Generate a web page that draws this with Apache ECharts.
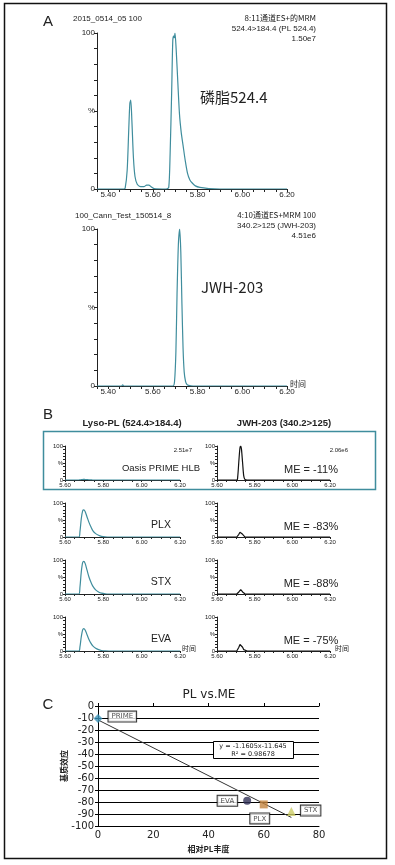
<!DOCTYPE html>
<html><head><meta charset="utf-8">
<script src="https://cdn.jsdelivr.net/npm/echarts@6/dist/echarts.min.js"></script>
<style>html,body{margin:0;padding:0;background:#fff}#c{width:395px;height:865px}</style>
</head><body><div id="c"></div><script>
// ---------- DATA ----------
// Panel A (top): 524.4>184.4 chromatogram
const a1Time = [5.35,5.47,5.476,5.485,5.492,5.497,5.501,5.506,5.513,5.52,5.53,5.545,5.56,5.572,5.582,5.592,5.605,5.66,5.671,5.677,5.684,5.689,5.693,5.696,5.699,5.704,5.711,5.719,5.727,5.735,5.745,5.755,5.765,5.775,5.79,5.81,5.85,5.9,6.2];
const a1Pct  = [0,0,0.5,12,38,55,57,44,20,8,3,1.5,1.5,2.5,2.5,1.5,0.3,0,1,22,62,95,98,97,100,90,70,48,36,28,18,10,6,4,2,1,0.3,0,0];
// Panel A (bottom): 340.2>125 (JWH-203)
const a2Time = [5.35,5.46,5.465,5.47,5.69,5.697,5.703,5.708,5.714,5.72,5.725,5.73,5.735,5.74,5.746,5.752,5.76,5.78,6.2];
const a2Pct  = [0,0,0.8,0,0,3,22,58,90,100,85,52,24,9,3,1,0.4,0,0];
// Panel B: Lyso-PL column (rows: PRIME HLB, PLX, STX, EVA)
const bTimePL = [5.6,5.672,5.678,5.685,5.692,5.698,5.705,5.715,5.725,5.735,5.745,5.76,5.775,5.79,5.81,5.83,6.2];
const bPLPrime = [0,0,0.5,1,1.5,2,1.5,1,0.5,0.3,0,0,0,0,0,0,0];
const bPLPLX   = [0,0,16,54,77,80,75,59,43,30,19,10,5,2,0.5,0,0];
const bPLSTX   = [0,0,20,65,92,96,90,70,50,35,23,12,6,2.5,0.5,0,0];
const bPLEVA   = [0,0,12,42,62,66,62,48,34,23,15,8,4,1.5,0.3,0,0];
// Panel B: JWH-203 column
const bTimeJWH  = [5.6,5.705,5.71,5.716,5.722,5.726,5.73,5.736,5.742,5.748,5.76,6.2];
const bJWHPrime = [0,0,10,55,95,100,90,50,12,2,0,0];
const bJWHPLX   = [0,0,3,8,14,17,14,8,3,0.5,0,0];
const bJWHSTX   = [0,0,2,6,11,13,11,6,2,0.5,0,0];
const bJWHEVA   = [0,0,4,11,19,22,19,11,4,1,0,0];
const bRowNames = ['Oasis PRIME HLB','PLX','STX','EVA'];
const bMELabels = ['ME = -11%','ME = -83%','ME = -88%','ME = -75%'];
// Panel C: PL vs. ME
const cNames = ['PRIME','EVA','PLX','STX'];
const cPL    = [0,54,60,70];
const cME    = [-10.5,-79,-82,-88];
const cTrendX = [0,70];
const cTrendY = [-11.6,-92.9];

// ---------- LAYOUT ----------
const TEAL = '#3f8d9d';
const LAT = 'Liberation Sans, Arial, sans-serif';
const CJK = 'Noto Sans CJK SC, sans-serif';
const DV = 'DejaVu Sans, Verdana, sans-serif';
const zip = (xs, ys) => xs.map((x,i)=>[x, ys[i]]);

const grids = [], xAxes = [], yAxes = [], series = [];
function timeFmt(v){ const k=Math.round(v*100); return k%20===0 ? (k/100).toFixed(2) : ''; }
function pctFmt(v){ return v===100?'100':(v===0?'0':(v===50?'%':'')); }

function addChrom(g, min, max, fs, tickLen, lineColor, data, smooth){
  const gi = grids.length;
  grids.push(g);
  xAxes.push({type:'value', gridIndex:gi, min:min, max:max, interval:0.05,
    axisLine:{show:true,onZero:false,lineStyle:{color:'#222',width:1}},
    axisTick:{show:true,length:tickLen,lineStyle:{color:'#222'}},
    splitLine:{show:false},
    axisLabel:{interval:0, formatter:timeFmt, fontSize:fs, color:'#222', fontFamily:LAT, margin:2, showMinLabel:true, showMaxLabel:true}});
  yAxes.push({type:'value', gridIndex:gi, min:0, max:100, interval:10,
    axisLine:{show:true,lineStyle:{color:'#222',width:1}},
    axisTick:{show:true,length:tickLen,lineStyle:{color:'#222'}},
    splitLine:{show:false},
    axisLabel:{interval:0, formatter:pctFmt, fontSize:fs, color:'#222', fontFamily:LAT, margin:2}});
  series.push({type:'line', xAxisIndex:gi, yAxisIndex:gi, data:data, showSymbol:false, smooth:smooth,
    lineStyle:{color:lineColor, width:1.2}, silent:true, z:3});
}

addChrom({left:97, top:33, width:190, height:156}, 5.35, 6.2, 8, 3, TEAL, zip(a1Time,a1Pct), 0.25);
addChrom({left:97, top:229, width:190, height:157}, 5.35, 6.2, 8, 3, TEAL, zip(a2Time,a2Pct), 0.25);

const bRowTop = [446, 503, 560, 617];
const plSets = [bPLPrime,bPLPLX,bPLSTX,bPLEVA];
const jwhSets = [bJWHPrime,bJWHPLX,bJWHSTX,bJWHEVA];
for (let r=0;r<4;r++){
  addChrom({left:65, top:bRowTop[r], width:115, height:34}, 5.6, 6.2, 6, 2, TEAL, zip(bTimePL, plSets[r]), 0.3);
  addChrom({left:217, top:bRowTop[r], width:113, height:34}, 5.6, 6.2, 6, 2, '#111', zip(bTimeJWH, jwhSets[r]), r===0?0.3:0);
}

// Panel C
const cg = grids.length;
grids.push({left:98, top:706, width:221, height:120});
xAxes.push({type:'value', gridIndex:cg, min:0, max:80, interval:20, position:'bottom',
  name:'相对PL丰度', nameLocation:'middle', nameGap:19, nameMoveOverlap:false,
  nameTextStyle:{fontFamily:CJK, fontSize:8, color:'#222', fontWeight:'bold'},
  axisLine:{show:true,onZero:false,lineStyle:{color:'#000'}}, axisTick:{show:false},
  splitLine:{show:false},
  axisLabel:{fontSize:10, fontFamily:DV, color:'#222', margin:4}});
xAxes.push({type:'value', gridIndex:cg, min:0, max:80, interval:20, position:'top',
  axisLine:{show:true,onZero:false,lineStyle:{color:'#000'}}, axisTick:{show:true,length:3,lineStyle:{color:'#000'}},
  splitLine:{show:false}, axisLabel:{show:false}});
yAxes.push({type:'value', gridIndex:cg, min:-100, max:0, interval:10,
  name:'基质效应', nameLocation:'middle', nameGap:30, nameRotate:90, nameMoveOverlap:false,
  nameTextStyle:{fontFamily:CJK, fontSize:8, color:'#222', fontWeight:'bold'},
  axisLine:{show:true,lineStyle:{color:'#000'}}, axisTick:{show:true,length:3,lineStyle:{color:'#000'}},
  splitLine:{show:true,lineStyle:{color:'#000',width:1}},
  axisLabel:{fontSize:10, fontFamily:DV, color:'#222', margin:4}});

series.push({type:'line', xAxisIndex:cg, yAxisIndex:cg, data:zip(cTrendX,cTrendY), showSymbol:false,
  lineStyle:{color:'#333',width:1}, silent:true, z:2});
const cSym = ['diamond','circle','rect','triangle'];
const cCol = ['#3a92b8','#2f2f55','#c4843f','#cccc66'];
const cSize = [9,8,8,9];
const cLabelPos = [
  {position:'right', distance:6, offset:[0,-2]},
  {position:'left', distance:6},
  {position:'bottom', distance:5, offset:[-4,0]},
  {position:'right', distance:5, offset:[0,-1]}];
series.push({type:'scatter', xAxisIndex:cg, yAxisIndex:cg, z:4,
  data: cNames.map((n,i)=>({name:n, value:[cPL[i], cME[i]], symbol:cSym[i], symbolSize:cSize[i],
    itemStyle:{color:cCol[i]},
    label:Object.assign({show:true, formatter:'{b}', fontSize:7, fontFamily:DV, color:'#222',
      backgroundColor:'#fff', borderColor:'#000', borderWidth:1, padding:[2,3,1,3]}, cLabelPos[i])}))});

// ---------- TEXT / FRAMES ----------
const T = (x,y,text,opt) => Object.assign({type:'text', x:x, y:y, style:Object.assign({text:text, fill:'#222', font:'8px '+LAT, textVerticalAlign:'middle'}, opt||{})});
const graphic = [
  {type:'rect', shape:{x:4.5,y:3.5,width:382,height:855}, style:{fill:'none', stroke:'#111', lineWidth:1.5}},
  {type:'rect', shape:{x:43.5,y:431.5,width:332,height:58}, style:{fill:'none', stroke:TEAL, lineWidth:1.5}},
  T(48,22,'A',{font:'15px '+LAT, textAlign:'center'}),
  T(73,19,'2015_0514_05 100'),
  T(316,18,'8:11通道ES+的MRM',{textAlign:'right', font:'8px '+CJK}),
  T(316,29,'524.4>184.4 (PL 524.4)',{textAlign:'right'}),
  T(316,39,'1.50e7',{textAlign:'right'}),
  T(200,97,'磷脂524.4',{font:'15px '+CJK}),
  T(75,216,'100_Cann_Test_150514_8'),
  T(316,215,'4:10通道ES+MRM 100',{textAlign:'right', font:'8px '+CJK}),
  T(316,226,'340.2>125 (JWH-203)',{textAlign:'right'}),
  T(316,236,'4.51e6',{textAlign:'right'}),
  T(201,287,'JWH-203',{font:'15px '+CJK}),
  T(290,384,'时间',{font:'8px '+CJK}),
  T(48,415,'B',{font:'15px '+LAT, textAlign:'center'}),
  T(132,423,'Lyso-PL (524.4>184.4)',{font:'bold 9.5px '+LAT, textAlign:'center'}),
  T(284,423,'JWH-203 (340.2>125)',{font:'bold 9.5px '+LAT, textAlign:'center'}),
  T(192,450,'2.51e7',{font:'6px '+LAT, textAlign:'right'}),
  T(348,450,'2.06e6',{font:'6px '+LAT, textAlign:'right'}),
  T(182,648,'时间',{font:'7px '+CJK}),
  T(335,648,'时间',{font:'7px '+CJK}),
  T(48,705,'C',{font:'15px '+LAT, textAlign:'center'}),
  T(209,695,'PL vs.ME',{font:'12px '+DV, textAlign:'center'}),
  {type:'rect', shape:{x:213.5,y:741.5,width:80,height:17}, style:{fill:'#fff', stroke:'#000', lineWidth:1}, z:10},
  T(253,746,'y = -1.1605x-11.645',{font:'6.5px '+DV, textAlign:'center'}),
  T(253,754,'R² = 0.98678',{font:'6.5px '+DV, textAlign:'center'})
];
for (let r=0;r<4;r++){
  graphic.push(T(161, bRowTop[r]+22, bRowNames[r], {font:(r===0?'9.5px ':'10.5px ')+LAT, textAlign:'center'}));
  graphic.push(T(311, bRowTop[r]+24, bMELabels[r], {font:'11px '+LAT, textAlign:'center'}));
}
graphic.forEach(g=>{ if(g.type==='text' && g.z===undefined) g.z=10; });

const chart = echarts.init(document.getElementById('c'), null, {renderer:'canvas'});
chart.setOption({animation:false, backgroundColor:'#fff', grid:grids, xAxis:xAxes, yAxis:yAxes, series:series, graphic:graphic});
</script></body></html>
